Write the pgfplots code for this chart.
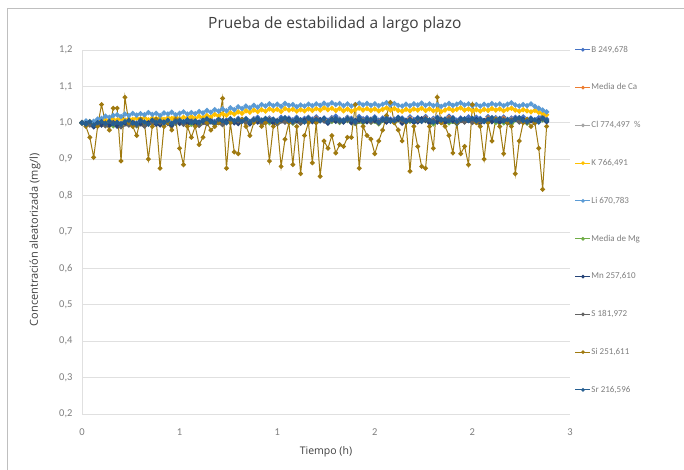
\documentclass[border=0pt]{standalone}
\usepackage{pgfplots}
\pgfplotsset{compat=1.18}
\usepackage{pgfplotstable}
\usepackage{fontspec}
\setmainfont{Carlito}
\newfontfamily\osans{Open Sans}
\definecolor{cB}{HTML}{4472C4}
\definecolor{cCa}{HTML}{ED7D31}
\definecolor{cCl}{HTML}{A5A5A5}
\definecolor{cK}{HTML}{FFC000}
\definecolor{cLi}{HTML}{5B9BD5}
\definecolor{cMg}{HTML}{70AD47}
\definecolor{cMn}{HTML}{264478}
\definecolor{cS}{HTML}{636363}
\definecolor{cSi}{HTML}{A07A10}
\definecolor{cSr}{HTML}{255E91}
\definecolor{tickgray}{HTML}{7F7F7F}
\definecolor{labgray}{HTML}{404040}
\definecolor{gridgray}{HTML}{E0E0E0}
\pgfplotstableread{
t B K Li Mn Si Sr
0.00 1.000 1.000 1.000 1.000 1.000 1.000
0.02 0.997 0.998 1.005 0.998 0.99 0.996
0.04 1.001 1.003 0.998 0.995 0.96 1.003
0.06 0.996 0.997 1.004 0.989 0.905 0.994
0.08 1.003 1.002 1.010 1.000 0.99 1.000
0.10 1.007 1.005 1.012 0.994 1.05 1.003
0.12 0.999 1.008 1.018 0.998 1.00 0.998
0.14 0.997 1.004 1.015 0.993 0.98 1.004
0.16 1.005 1.010 1.020 1.000 1.04 0.997
0.18 1.002 1.007 1.022 0.991 1.04 1.001
0.20 0.996 1.012 1.017 0.997 0.895 0.996
0.22 1.007 1.006 1.024 1.000 1.07 1.003
0.24 1.001 1.011 1.020 0.995 1.00 1.007
0.26 1.005 1.009 1.026 1.001 0.99 0.999
0.28 1.000 1.013 1.021 0.994 0.965 0.997
0.30 1.007 1.010 1.025 0.998 1.01 1.005
0.32 0.998 1.014 1.022 0.993 1.00 1.002
0.34 1.004 1.008 1.028 1.000 0.90 0.996
0.36 1.007 1.013 1.023 1.004 0.99 1.007
0.38 1.002 1.011 1.026 0.996 1.01 1.001
0.40 1.008 1.015 1.020 0.994 0.875 1.005
0.42 1.001 1.009 1.027 1.002 0.99 1.000
0.44 1.005 1.014 1.024 0.999 1.00 1.007
0.46 1.000 1.012 1.029 0.993 0.98 0.998
0.48 1.007 1.016 1.022 1.004 1.01 1.004
0.50 1.011 1.010 1.026 0.998 0.93 1.007
0.52 1.003 1.015 1.030 1.002 0.885 1.002
0.54 1.001 1.013 1.024 0.997 0.99 1.008
0.56 1.009 1.017 1.028 1.004 0.96 1.001
0.58 1.006 1.012 1.025 0.995 0.99 1.005
0.60 1.000 1.018 1.031 1.001 0.94 1.000
0.62 1.011 1.014 1.027 1.004 0.96 1.007
0.64 1.005 1.020 1.034 0.999 1.00 1.011
0.66 1.009 1.016 1.029 1.005 0.98 1.003
0.68 1.004 1.023 1.036 0.998 0.99 1.001
0.70 1.011 1.019 1.032 1.002 1.00 1.009
0.72 1.002 1.025 1.038 0.997 1.067 1.006
0.74 1.008 1.021 1.033 1.004 0.875 1.000
0.76 1.011 1.028 1.041 1.008 1.00 1.011
0.78 1.006 1.024 1.036 1.000 0.92 1.005
0.80 1.012 1.030 1.044 0.998 0.915 1.009
0.82 1.005 1.026 1.039 1.006 1.01 1.004
0.84 1.009 1.033 1.046 1.003 0.99 1.011
0.86 1.004 1.029 1.041 0.997 0.965 1.002
0.88 1.011 1.035 1.048 1.008 1.00 1.008
0.90 1.015 1.031 1.043 1.002 1.01 1.011
0.92 1.007 1.036 1.050 1.006 0.99 1.006
0.94 1.005 1.032 1.046 1.001 1.00 1.012
0.96 1.013 1.038 1.052 1.008 0.895 1.005
0.98 1.010 1.034 1.047 0.999 0.99 1.009
1.00 1.004 1.037 1.051 1.005 1.00 1.003
1.02 1.015 1.031 1.045 1.008 0.88 1.010
1.04 1.009 1.039 1.053 1.003 0.955 1.014
1.06 1.013 1.035 1.048 1.009 1.00 1.006
1.08 1.008 1.037 1.050 1.002 0.885 1.004
1.10 1.015 1.032 1.044 1.006 0.99 1.011
1.12 1.006 1.036 1.049 1.000 0.86 1.008
1.14 1.012 1.033 1.046 1.007 0.965 1.002
1.16 1.015 1.038 1.051 1.011 1.00 1.013
1.18 1.010 1.034 1.047 1.003 0.89 1.007
1.20 1.016 1.039 1.052 1.001 1.00 1.010
1.22 1.009 1.035 1.048 1.008 0.853 1.005
1.24 1.013 1.041 1.054 1.005 0.95 1.012
1.26 1.007 1.036 1.049 0.999 0.93 1.003
1.28 1.014 1.040 1.055 1.010 0.965 1.009
1.30 1.018 1.034 1.050 1.004 0.917 1.011
1.32 1.010 1.039 1.053 1.007 0.94 1.006
1.34 1.008 1.033 1.047 1.002 0.935 1.006
1.36 1.015 1.038 1.052 1.009 0.96 1.011
1.38 1.012 1.032 1.046 1.000 0.96 1.009
1.40 1.006 1.036 1.050 1.006 1.05 1.003
1.42 1.017 1.040 1.054 1.008 0.875 1.012
1.44 1.011 1.035 1.049 1.003 0.99 1.005
1.46 1.014 1.039 1.053 1.003 0.965 1.010
1.48 1.009 1.034 1.048 1.008 0.955 1.007
1.50 1.016 1.038 1.052 1.006 0.915 1.013
1.52 1.007 1.033 1.047 1.000 0.95 1.002
1.54 1.013 1.037 1.051 1.009 0.98 1.008
1.56 1.015 1.041 1.055 1.002 1.02 1.011
1.58 1.010 1.035 1.049 1.007 1.056 1.004
1.60 1.010 1.039 1.053 1.004 1.00 1.006
1.62 1.015 1.034 1.048 1.010 0.98 1.014
1.64 1.013 1.032 1.046 0.999 0.95 1.010
1.66 1.007 1.037 1.051 1.005 1.00 1.003
1.68 1.016 1.033 1.047 1.008 0.867 1.009
1.70 1.009 1.038 1.052 1.001 0.99 1.005
1.72 1.014 1.035 1.049 1.003 0.935 1.012
1.74 1.011 1.040 1.054 1.011 0.88 1.004
1.76 1.017 1.034 1.048 1.007 0.875 1.011
1.78 1.006 1.038 1.052 1.000 0.99 1.008
1.80 1.012 1.033 1.047 1.006 0.93 1.002
1.82 1.015 1.036 1.050 1.002 1.07 1.013
1.84 1.008 1.031 1.045 1.009 1.00 1.007
1.86 1.010 1.035 1.049 1.001 0.99 1.010
1.88 1.018 1.039 1.053 1.008 0.965 1.005
1.90 1.014 1.034 1.048 1.005 0.917 1.012
1.92 1.007 1.037 1.051 0.999 1.00 1.003
1.94 1.013 1.041 1.055 1.010 0.915 1.009
1.96 1.009 1.035 1.049 1.004 0.935 1.011
1.98 1.016 1.038 1.052 1.007 0.885 1.006
2.00 1.008 1.033 1.047 1.002 1.05 1.012
2.02 1.015 1.036 1.050 1.009 1.00 1.005
2.04 1.012 1.032 1.046 1.000 0.99 1.009
2.06 1.006 1.037 1.051 1.006 0.90 1.003
2.08 1.017 1.034 1.048 1.008 1.00 1.010
2.10 1.011 1.039 1.053 1.003 0.95 1.014
2.12 1.014 1.035 1.049 1.009 1.01 1.006
2.14 1.009 1.038 1.052 1.002 0.99 1.012
2.16 1.016 1.033 1.047 1.006 0.915 1.005
2.18 1.007 1.037 1.051 1.000 1.00 1.009
2.20 1.013 1.040 1.055 1.007 0.99 1.003
2.22 1.015 1.035 1.049 1.011 0.86 1.010
2.24 1.010 1.032 1.046 1.003 0.95 1.014
2.26 1.016 1.036 1.050 1.009 1.00 1.006
2.28 1.009 1.033 1.047 1.002 1.01 1.004
2.30 1.013 1.030 1.052 1.006 0.99 1.011
2.32 1.007 1.034 1.045 1.000 1.00 1.008
2.34 1.014 1.029 1.040 1.007 0.93 1.002
2.36 1.018 1.025 1.035 1.011 0.817 1.013
2.38 1.010 1.022 1.030 1.003 0.99 1.007
}\main
\pgfplotstableread{
t Ca Cl Mg S
0.00 1.000 1.000 1.000 1.000
0.04 0.997 0.997 0.998 0.994
0.08 0.999 1.002 0.995 0.996
0.12 0.995 1.000 0.993 0.992
0.16 1.001 1.002 0.992 0.998
0.20 0.992 0.999 0.991 0.989
0.24 0.997 0.997 1.002 0.994
0.28 0.996 0.996 0.992 0.993
0.32 0.994 0.995 0.997 0.991
0.36 1.003 1.006 1.002 1.000
0.40 1.004 0.996 1.000 1.001
0.44 1.001 1.001 1.002 0.998
0.48 1.003 1.006 0.999 1.000
0.52 0.999 1.004 0.997 0.996
0.56 1.005 1.006 0.996 1.002
0.60 0.996 1.003 0.995 0.993
0.64 1.001 1.001 1.006 0.998
0.68 1.000 1.000 0.996 0.997
0.72 0.998 0.999 1.001 0.995
0.76 1.007 1.010 1.006 1.004
0.80 1.008 1.000 1.004 1.005
0.84 1.005 1.005 1.006 1.002
0.88 1.007 1.010 1.003 1.004
0.92 1.003 1.008 1.001 1.000
0.96 1.009 1.010 1.000 1.006
1.00 1.000 1.007 0.998 0.997
1.04 1.005 1.005 1.009 1.002
1.08 1.004 1.004 0.999 1.001
1.12 1.002 1.002 1.003 0.999
1.16 1.011 1.013 1.008 1.008
1.20 1.012 1.003 1.005 1.009
1.24 1.009 1.007 1.007 1.006
1.28 1.010 1.012 1.004 1.007
1.32 1.006 1.009 1.001 1.003
1.36 1.011 1.011 1.006 1.008
1.40 1.002 1.008 0.998 0.999
1.44 1.007 1.005 1.000 1.004
1.48 1.005 1.010 1.002 1.002
1.52 1.003 1.002 0.997 1.000
1.56 1.011 1.004 1.006 1.008
1.60 1.006 1.006 1.001 1.003
1.64 1.009 1.001 1.005 1.006
1.68 1.012 1.010 1.004 1.009
1.72 1.010 1.005 1.007 1.007
1.76 1.013 1.009 1.006 1.010
1.80 1.008 1.008 0.997 1.005
1.84 1.004 1.011 1.002 1.001
1.88 1.014 1.010 1.000 1.011
1.92 1.003 1.001 0.998 1.000
1.96 1.005 1.006 1.006 1.002
2.00 1.004 1.004 1.007 1.001
2.04 1.008 1.002 1.004 1.005
2.08 1.013 1.010 1.005 1.010
2.12 1.010 1.011 1.001 1.007
2.16 1.012 1.008 1.000 1.009
2.20 1.009 1.009 0.998 1.006
2.24 1.006 1.005 1.009 1.003
2.28 1.005 1.004 0.999 1.002
2.32 1.003 1.002 1.003 1.000
2.36 1.014 1.013 1.008 1.011
}\hid
\begin{document}
\begin{tikzpicture}[x=1pt,y=1pt]
\useasboundingbox (0,0) rectangle (684,470);
\fill[white] (0,0) rectangle (684,470);
\draw[line width=0.8pt, draw=black!25] (7,-5) -- (7,462) -- (690,462);
\begin{axis}[
  at={(82pt,56pt)}, anchor=south west,
  width=488pt, height=364pt, scale only axis,
  xmin=0, xmax=2.5, ymin=0.2, ymax=1.2,
  xtick={0,0.5,1,1.5,2,2.5},
  xticklabels={0,1,1,2,2,3},
  ytick={0.2,0.3,0.4,0.5,0.6,0.7,0.8,0.9,1.0,1.1,1.2},
  y tick label style={/pgf/number format/use comma, /pgf/number format/fixed, /pgf/number format/fixed zerofill, /pgf/number format/precision=1, xshift=-6pt},
  /pgf/number format/assume math mode=true,
  axis x line=bottom, axis y line=left,
  axis line style={-, draw=gridgray, line width=0.8pt},
  major tick length=0pt,
  ymajorgrids, grid style={draw=gridgray, line width=0.8pt},
  tick label style={font=\fontsize{10.5}{12}\selectfont, text=tickgray},
  x tick label style={yshift=-11pt},
  title={Prueba de estabilidad a largo plazo},
  title style={at={(axis description cs:0.518,1.0549)}, anchor=center, font=\osans\fontsize{15.5}{18}\selectfont, text=labgray},
  xlabel={Tiempo (h)},
  xlabel style={at={(axis description cs:0.5,-0.104)}, anchor=center, font=\osans\fontsize{10.5}{13}\selectfont, text=labgray},
  ylabel={Concentración aleatorizada (mg/l)},
  ylabel style={at={(axis description cs:-0.0963,0.478)}, anchor=center, rotate=0, font=\osans\fontsize{11}{13}\selectfont, text=labgray},
  every axis plot/.append style={line width=1.3pt, mark=*, mark size=1.9pt},
  legend cell align=left,
  legend style={at={(1.0102,1.0137)}, anchor=north west, draw=none, fill=none,
    font=\fontsize{9}{10}\selectfont, text=tickgray, row sep=28.3pt,
    inner sep=0pt, outer sep=0pt,
    nodes={inner sep=0.5pt, text height=6.5pt, text depth=2pt}},
  legend image code/.code={\draw[line width=1pt, mark size=1.3pt, mark repeat=2,mark phase=2] plot coordinates {(0pt,0pt)(7.5pt,0pt)(15pt,0pt)};},
]
\addplot[color=cB] table[x=t,y=B]{\main};
\addlegendentry{B 249,678}
\addplot[color=cCa] table[x=t,y=Ca]{\hid};
\addlegendentry{Media de Ca}
\addplot[color=cCl] table[x=t,y=Cl]{\hid};
\addlegendentry{Cl 774,497 \ \%}
\addplot[color=cK] table[x=t,y=K]{\main};
\addlegendentry{K 766,491}
\addplot[color=cLi] table[x=t,y=Li]{\main};
\addlegendentry{Li 670,783}
\addplot[color=cMg] table[x=t,y=Mg]{\hid};
\addlegendentry{Media de Mg}
\addplot[color=cMn] table[x=t,y=Mn]{\main};
\addlegendentry{Mn 257,610}
\addplot[color=cS] table[x=t,y=S]{\hid};
\addlegendentry{S 181,972}
\addplot[color=cSi, line width=1pt, mark size=1.9pt] table[x=t,y=Si]{\main};
\addlegendentry{Si 251,611}
\addplot[color=cSr] table[x=t,y=Sr]{\main};
\addlegendentry{Sr 216,596}
\end{axis}
\end{tikzpicture}
\end{document}
